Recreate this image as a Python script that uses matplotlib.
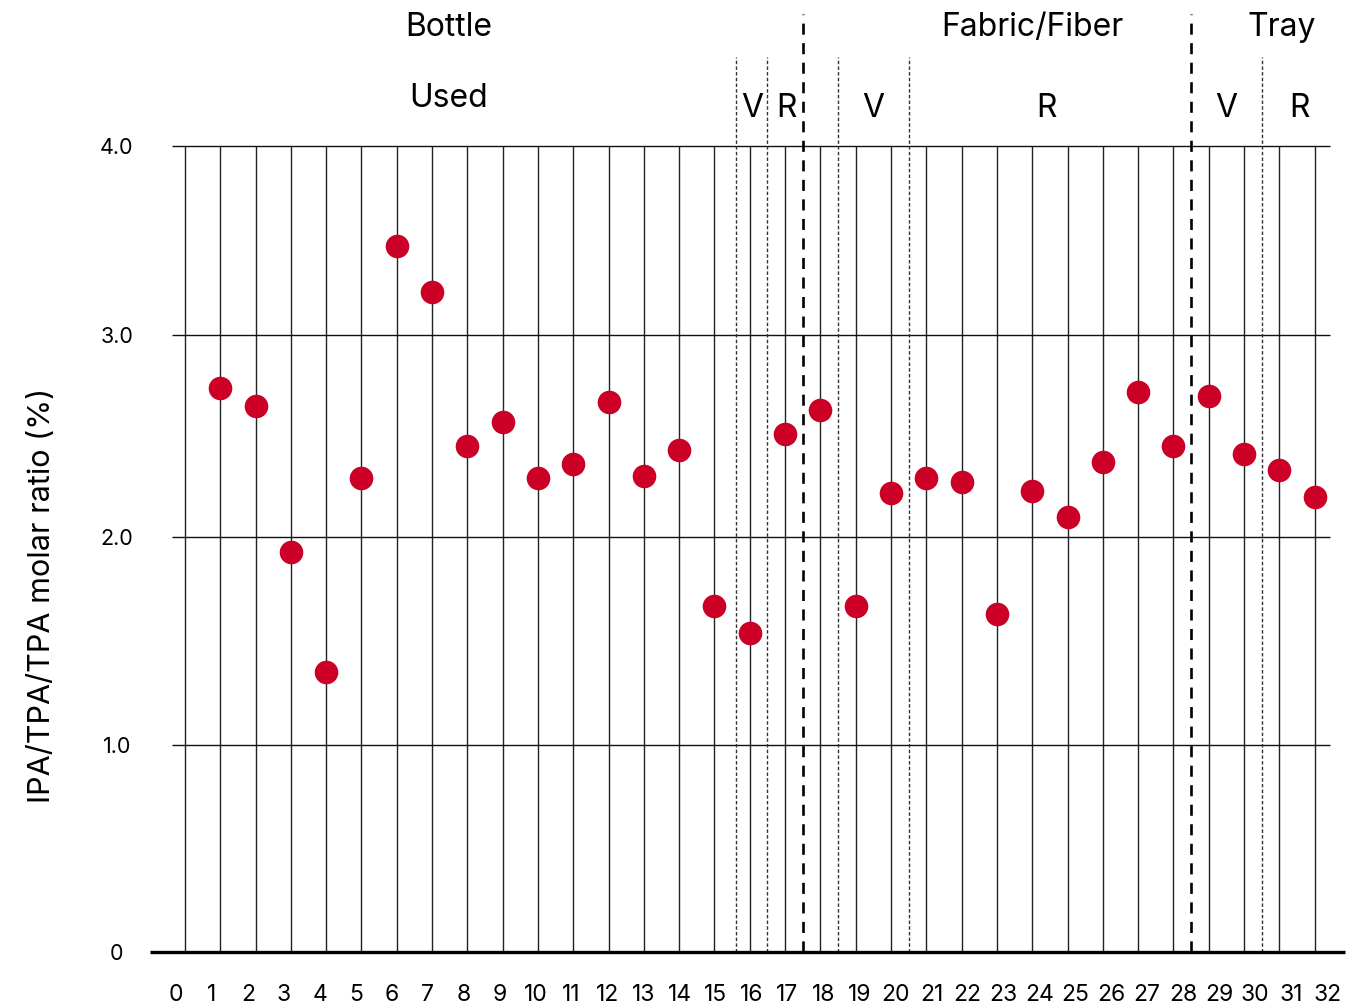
import matplotlib
matplotlib.use("Agg")
import matplotlib.pyplot as plt
import numpy as np

plt.rcParams['font.family'] = ['Inter', 'DejaVu Sans']

# sample number and IPA/TPA ratio
samples = list(range(1, 33))
ratio = [2.74, 2.65, 1.93, 1.35, 2.29, 3.47, 3.23, 2.45, 2.57, 2.29,
         2.36, 2.67, 2.30, 2.43, 1.67, 1.54, 2.51, 2.63, 1.67, 2.22,
         2.29, 2.27, 1.63, 2.23, 2.10, 2.37, 2.72, 2.45, 2.70, 2.41,
         2.33, 2.20]

y_ticks = [0, 1, 2, 3, 4]
y_ticklabels = ["0", "1.0", "2.0", "3.0", "4.0"]
x_ticklabels = [str(i) for i in range(0, 33)]

# group dividers
major_div = [17.5, 28.5]
minor_div = [15.6, 16.5, 18.5, 20.5, 30.5]

groups = ["Bottle", "Fabric/Fiber", "Tray"]
subgroups = ["Used", "V", "R", "V", "R", "V", "R"]

red = "#CC0026"

# the original grid is not evenly spaced; mimic it with a piecewise scale
_v = np.array([0, 1, 2, 3, 4, 5])
_p = np.array([0, 207, 415, 617, 806, 995])


def fwd(v):
    return np.interp(v, _v, _p)


def inv(p):
    return np.interp(p, _p, _v)


fig = plt.figure(figsize=(13.72, 10.08), dpi=100)
ax = fig.add_axes([150/1372, 56/1008, 1195/1372, 947/1008])
ax.set_yscale("function", functions=(fwd, inv))
ax.set_xlim(-0.99, 32.86)
ax.set_ylim(0, 4.746)

for s in ax.spines.values():
    s.set_visible(False)

# vertical lines for each sample
ax.vlines(range(0, 33), 0, 4.0, color="#222222", lw=1.0, zorder=1)
# horizontal grid
ax.hlines([1, 2, 3, 4], -0.37, 32.44, color="#111111", lw=1.0, zorder=1)
# baseline
ax.hlines(0, -0.99, 32.86, color="black", lw=2.4, zorder=3, clip_on=False)

for x in minor_div:
    ax.plot([x, x], [0, 4.47], color="#333333", lw=1.0,
            linestyle=(0, (2.5, 1.6)), zorder=2)
for x in major_div:
    ax.plot([x, x], [0, 4.70], color="black", lw=1.9,
            linestyle=(0, (4.2, 3.2)), zorder=2)

ax.plot(samples, ratio, "o", color=red, markersize=17, markeredgewidth=0, zorder=4)

ax.set_yticks(y_ticks)
ax.set_yticklabels(y_ticklabels, fontsize=15.5)
ax.yaxis.set_minor_locator(matplotlib.ticker.NullLocator())
ax.tick_params(axis="y", length=0, pad=24)
for lab in ax.get_yticklabels():
    lab.set_horizontalalignment("center")

ax.set_xticks(-0.255 + np.arange(33) * 1.019)
ax.set_xticklabels(x_ticklabels, fontsize=16.5)
ax.tick_params(axis="x", length=0, pad=23)

# group labels
for name, x in zip(groups, [7.48, 24.0, 31.08]):
    ax.text(x, 4.625, name, ha="center", va="center", fontsize=23)
for name, x in zip(subgroups, [7.48, 16.06, 17.05, 19.5, 24.4, 29.5, 31.56]):
    y = 4.25 if name == "Used" else 4.196
    ax.text(x, y, name, ha="center", va="center", fontsize=23)

fig.text(42/1372, 1 - 595/1008, "IPA/TPA/TPA molar ratio (%)", rotation=90,
         ha="center", va="center", fontsize=22)

fig.savefig("out.png", dpi=100)
